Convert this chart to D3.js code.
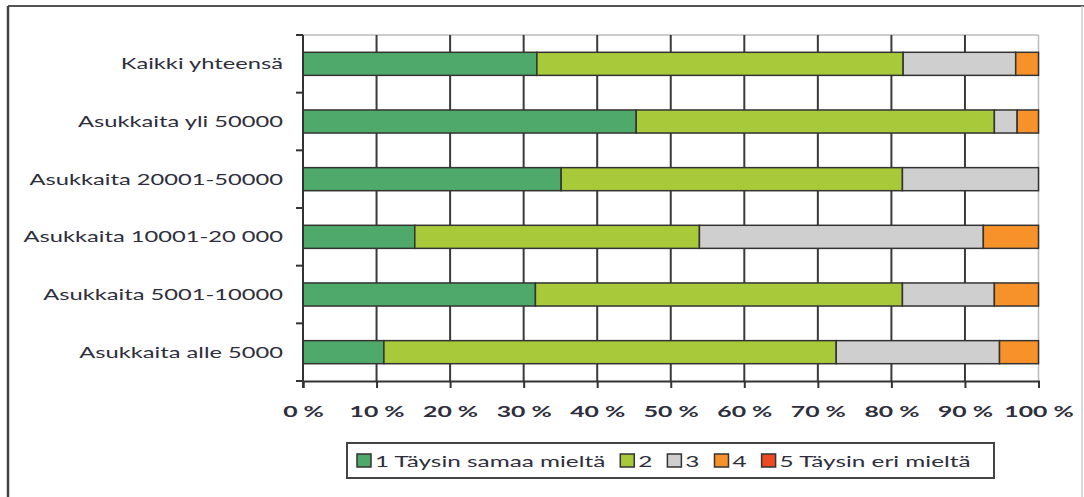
<!DOCTYPE html>
<html>
<head>
    <meta charset="utf-8">
    <style>
        body {
            margin: 0;
            background: white;
        }

        svg {
            display: block;
            font-family: Lato, 'Open Sans', sans-serif;
        }

        .label {
            font-size: 16px;
            fill: #2e2e3c;
        }
    </style>
</head>
<body>
    <svg width="1084" height="497"></svg>

    <script src="https://d3js.org/d3.v7.min.js"></script>
    <script>
        // categories top to bottom
        let categories = [
            "Kaikki yhteensä",
            "Asukkaita yli 50000",
            "Asukkaita 20001-50000",
            "Asukkaita 10001-20 000",
            "Asukkaita 5001-10000",
            "Asukkaita alle 5000"
        ]

        let seriesNames = ["1 Täysin samaa mieltä", "2", "3", "4", "5 Täysin eri mieltä"]
        let seriesColors = ["#4fa96b", "#a8c93a", "#cfcfcf", "#f7922b", "#ee4a22"]

        // percent shares
        let s1 = [31.8, 45.3, 35.1, 15.2, 31.6, 11.0]
        let s2 = [49.8, 48.7, 46.4, 38.7, 49.9, 61.5]
        let s3 = [15.3, 3.1, 18.5, 38.6, 12.5, 22.2]
        let s4 = [3.1, 2.9, 0, 7.5, 6.0, 5.3]
        let s5 = [0, 0, 0, 0, 0, 0]

        let tickValues = [0, 10, 20, 30, 40, 50, 60, 70, 80, 90, 100]

        let rows = categories.map((c, i) => ({
            cat: c, a: s1[i], b: s2[i], c3: s3[i], d: s4[i], e: s5[i]
        }))
        let keys = ["a", "b", "c3", "d", "e"]

        let svg = d3.select("svg")

        // the original font is wide, so stretch the text horizontally
        function stretch(sel, k) {
            sel.each(function () {
                let w = this.getComputedTextLength()
                d3.select(this).attr("textLength", w * k).attr("lengthAdjust", "spacingAndGlyphs")
            })
        }

        let pLeft = 303, pRight = 1038.5, pTop = 35, pBottom = 381

        // outer frame
        svg.append("line").attr("x1", 8).attr("x2", 1084).attr("y1", 6).attr("y2", 6)
            .style("stroke", "#555").style("stroke-width", 2)
        svg.append("line").attr("x1", 8).attr("x2", 8).attr("y1", 6).attr("y2", 497)
            .style("stroke", "#444").style("stroke-width", 2.5)
        svg.append("line").attr("x1", 1082).attr("x2", 1082).attr("y1", 6).attr("y2", 497)
            .style("stroke", "#ccc").style("stroke-width", 1.5)

        let x = d3.scaleLinear().domain([0, 100]).range([pLeft, pRight])
        let y = d3.scaleBand().domain(categories).range([pTop, pBottom])
            .paddingInner(0.6).paddingOuter(0.3)

        // plot border top/right (light)
        svg.append("line").attr("x1", pLeft).attr("x2", pRight).attr("y1", pTop).attr("y2", pTop)
            .style("stroke", "#bbb").style("stroke-width", 1.5)
        svg.append("line").attr("x1", pRight).attr("x2", pRight).attr("y1", pTop).attr("y2", pBottom)
            .style("stroke", "#bbb").style("stroke-width", 1.5)

        // gridlines
        svg.append("g")
            .selectAll("line")
            .data(tickValues.filter(d => d > 0 && d < 100))
            .join("line")
            .attr("x1", d => x(d)).attr("x2", d => x(d))
            .attr("y1", pTop).attr("y2", pBottom)
            .style("stroke", "#3a3a3a")
            .style("stroke-width", 2)

        // stacked bars
        let stack = d3.stack().keys(keys)(rows)

        svg.append("g")
            .selectAll("g")
            .data(stack)
            .join("g")
            .style("fill", (d, i) => seriesColors[i])
            .selectAll("rect")
            .data(d => d.filter(p => p[1] - p[0] > 0))
            .join("rect")
            .attr("x", d => x(d[0]))
            .attr("width", d => x(d[1]) - x(d[0]))
            .attr("y", d => y(d.data.cat))
            .attr("height", y.bandwidth())
            .style("stroke", "#333")
            .style("stroke-width", 1.5)

        // x axis
        let xAxis = svg.append("g")
            .attr("transform", "translate(0," + pBottom + ")")
            .call(d3.axisBottom(x).tickValues(tickValues).tickSize(7).tickPadding(18)
                .tickFormat(d => d + " %"))
        xAxis.select(".domain").style("stroke", "#333").style("stroke-width", 2)
        xAxis.selectAll(".tick line").style("stroke", "#333").style("stroke-width", 2)
        xAxis.selectAll("text")
            .attr("class", "label")
            .style("font-size", "15px")
            .style("font-weight", "bold")
            .style("font-family", "Lato, sans-serif")
            .call(stretch, 1.65)

        // y axis: line + ticks on category boundaries
        svg.append("line").attr("x1", pLeft).attr("x2", pLeft).attr("y1", pTop).attr("y2", pBottom + 7)
            .style("stroke", "#333").style("stroke-width", 2)
        let step = y.step()
        svg.append("g")
            .selectAll("line")
            .data(d3.range(categories.length + 1))
            .join("line")
            .attr("x1", pLeft - 7).attr("x2", pLeft)
            .attr("y1", i => pTop + i * step).attr("y2", i => pTop + i * step)
            .style("stroke", "#333")
            .style("stroke-width", 2)

        svg.append("g")
            .selectAll("text")
            .data(categories)
            .join("text")
            .attr("class", "label")
            .attr("x", 283)
            .attr("y", d => y(d) + y.bandwidth() / 2)
            .attr("dy", "0.35em")
            .attr("text-anchor", "end")
            .text(d => d)
            .call(stretch, 1.48)

        // legend
        let lg = svg.append("g")
        lg.append("rect")
            .attr("x", 347).attr("y", 443).attr("width", 647).attr("height", 35)
            .style("fill", "white").style("stroke", "#444").style("stroke-width", 2)

        let cx = 357
        seriesNames.forEach((name, i) => {
            lg.append("rect")
                .attr("x", cx).attr("y", 454).attr("width", 14).attr("height", 13)
                .style("fill", seriesColors[i]).style("stroke", "#333").style("stroke-width", 1.5)
            let t = lg.append("text")
                .attr("class", "label")
                .attr("x", cx + 18).attr("y", 461).attr("dy", "0.35em")
                .text(name)
            let w = t.node().getComputedTextLength() * 1.52
            t.attr("textLength", w).attr("lengthAdjust", "spacingAndGlyphs")
            cx = cx + 18 + w + 15
        })
    </script>
</body>
</html>
